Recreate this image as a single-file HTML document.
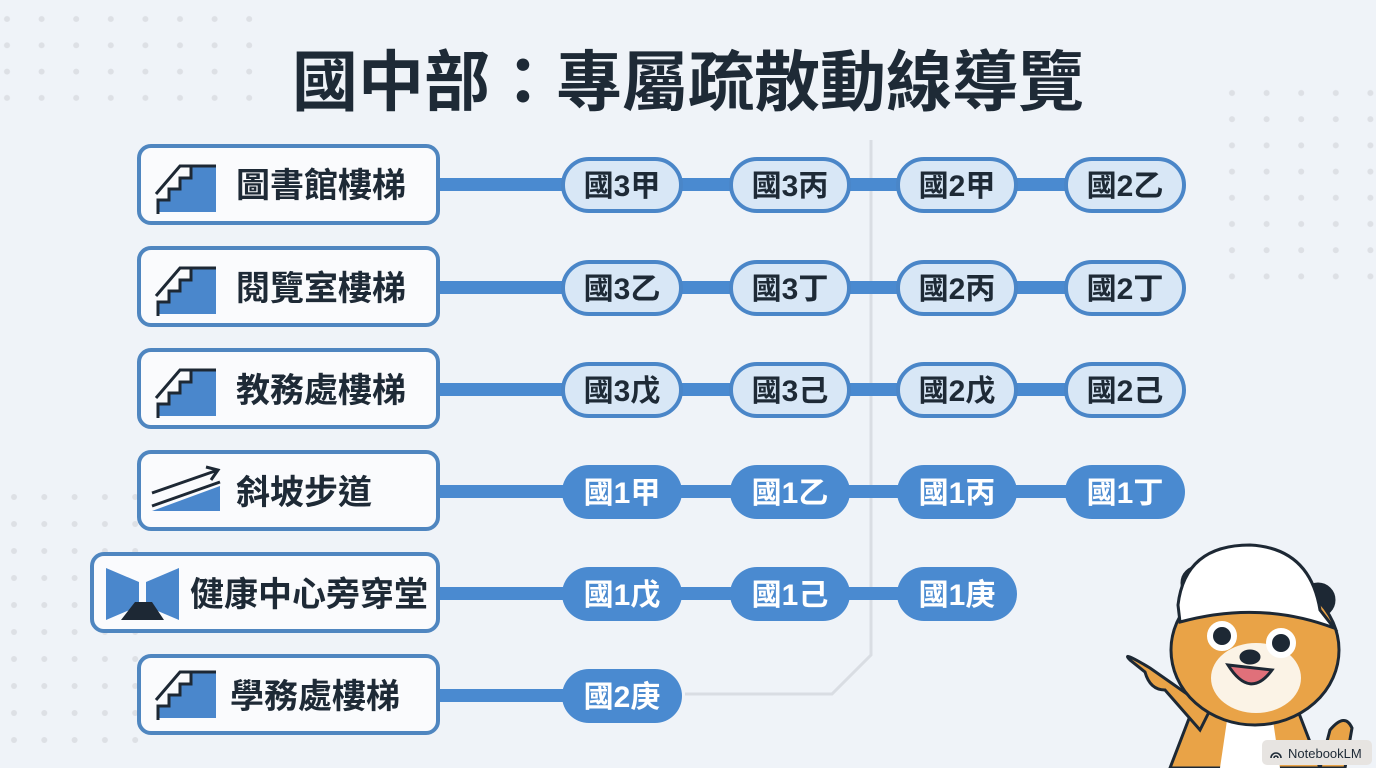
<!DOCTYPE html>
<html><head><meta charset="utf-8"><style>
html,body{margin:0;padding:0;background:#eff3f8;}
svg{display:block}
text{font-family:"Liberation Sans","Noto Sans CJK TC",sans-serif;font-weight:bold}
</style></head><body>
<svg width="1376" height="768" viewBox="0 0 1376 768" xmlns="http://www.w3.org/2000/svg">
<defs>
<pattern id="dl" x="-10" y="2" width="34.6" height="26.3" patternUnits="userSpaceOnUse"><circle cx="17" cy="17" r="3" fill="#dde0e5"/></pattern>
<pattern id="dr" x="1215" y="76" width="34.6" height="26.2" patternUnits="userSpaceOnUse"><circle cx="17" cy="17" r="3" fill="#dde0e5"/></pattern>
<pattern id="db" x="-3" y="480" width="30.3" height="27" patternUnits="userSpaceOnUse"><circle cx="17" cy="17" r="3" fill="#dde0e5"/></pattern>
<g id="stair">
<path d="M20 59 V47 H31 V36 H42 V25 H53 V14 H78 V59 Z" fill="#4a87cc"/>
<path d="M20 61 V47 H31 V36 H42 V25 H53 V14" fill="none" stroke="#1d2834" stroke-width="3"/>
<path d="M18 41 L42 13 H78" fill="none" stroke="#1d2834" stroke-width="3"/>
</g>
</defs>
<rect width="1376" height="768" fill="#eff3f8"/>
<rect x="0" y="0" width="262" height="112" fill="url(#dl)"/>
<rect x="1215" y="76" width="161" height="210" fill="url(#dr)"/>
<rect x="0" y="480" width="140" height="270" fill="url(#db)"/>

<text x="688" y="105" font-size="66" text-anchor="middle" fill="#1e2a36">國中部：專屬疏散動線導覽</text>

<path d="M871 140 V655 L832 694 H685" fill="none" stroke="#d9dde3" stroke-width="3"/>

<g fill="#4a8ad0">
<rect x="436" y="178" width="690" height="13"/>
<rect x="436" y="281" width="690" height="13"/>
<rect x="436" y="383" width="690" height="13"/>
<rect x="436" y="485" width="690" height="13"/>
<rect x="436" y="587" width="520" height="13"/>
<rect x="436" y="689" width="190" height="13"/>
</g>

<g fill="#fafbfd" stroke="#4f86c0" stroke-width="4">
<rect x="139" y="146" width="299" height="77" rx="12"/>
<rect x="139" y="248" width="299" height="77" rx="12"/>
<rect x="139" y="350" width="299" height="77" rx="12"/>
<rect x="139" y="452" width="299" height="77" rx="12"/>
<rect x="92" y="554" width="346" height="77" rx="12"/>
<rect x="139" y="656" width="299" height="77" rx="12"/>
</g>
<use href="#stair" x="138" y="153"/>
<use href="#stair" x="138" y="255"/>
<use href="#stair" x="138" y="357"/>
<use href="#stair" x="138" y="659"/>
<path d="M152 511 L220 486 V511 Z" fill="#4a87cc"/>
<path d="M152 506 L220 482" stroke="#1d2834" stroke-width="3"/>
<path d="M152 493 L218 470 M206 467 L218 470 L211 480" fill="none" stroke="#1d2834" stroke-width="3"/>
<path d="M106 568 L139 582 V606 L106 620 Z" fill="#4a87cc"/>
<path d="M179 568 L146 582 V606 L179 620 Z" fill="#4a87cc"/>
<path d="M121 620 L135 602 H152 L164 620 Z" fill="#1d2834"/>

<g font-size="34" fill="#1e2a36">
<text x="236" y="197">圖書館樓梯</text>
<text x="236" y="300">閱覽室樓梯</text>
<text x="236" y="402">教務處樓梯</text>
<text x="236" y="504">斜坡步道</text>
<text x="190" y="606">健康中心旁穿堂</text>
<text x="230" y="708">學務處樓梯</text>
</g>

<g fill="#d8e7f6" stroke="#4a86c8" stroke-width="4">
<rect x="563" y="159" width="118" height="52" rx="26"/>
<rect x="731" y="159" width="118" height="52" rx="26"/>
<rect x="898" y="159" width="118" height="52" rx="26"/>
<rect x="1066" y="159" width="118" height="52" rx="26"/>
<rect x="563" y="262" width="118" height="52" rx="26"/>
<rect x="731" y="262" width="118" height="52" rx="26"/>
<rect x="898" y="262" width="118" height="52" rx="26"/>
<rect x="1066" y="262" width="118" height="52" rx="26"/>
<rect x="563" y="364" width="118" height="52" rx="26"/>
<rect x="731" y="364" width="118" height="52" rx="26"/>
<rect x="898" y="364" width="118" height="52" rx="26"/>
<rect x="1066" y="364" width="118" height="52" rx="26"/>
</g>
<g fill="#4a8ad0">
<rect x="562" y="465" width="120" height="54" rx="27"/>
<rect x="730" y="465" width="120" height="54" rx="27"/>
<rect x="897" y="465" width="120" height="54" rx="27"/>
<rect x="1065" y="465" width="120" height="54" rx="27"/>
<rect x="562" y="567" width="120" height="54" rx="27"/>
<rect x="730" y="567" width="120" height="54" rx="27"/>
<rect x="897" y="567" width="120" height="54" rx="27"/>
<rect x="562" y="669" width="120" height="54" rx="27"/>
</g>
<g font-size="30" text-anchor="middle" fill="#1e2a36">
<text x="622" y="196">國3甲</text><text x="790" y="196">國3丙</text><text x="957" y="196">國2甲</text><text x="1125" y="196">國2乙</text>
<text x="622" y="299">國3乙</text><text x="790" y="299">國3丁</text><text x="957" y="299">國2丙</text><text x="1125" y="299">國2丁</text>
<text x="622" y="401">國3戊</text><text x="790" y="401">國3己</text><text x="957" y="401">國2戊</text><text x="1125" y="401">國2己</text>
</g>
<g font-size="30" text-anchor="middle" fill="#ffffff">
<text x="622" y="503">國1甲</text><text x="790" y="503">國1乙</text><text x="957" y="503">國1丙</text><text x="1125" y="503">國1丁</text>
<text x="622" y="605">國1戊</text><text x="790" y="605">國1己</text><text x="957" y="605">國1庚</text>
<text x="622" y="707">國2庚</text>
</g>

<g stroke="#1d2834" stroke-width="3">
<path d="M1170 768 L1200 690 L1290 690 L1320 768 Z" fill="#e9a347"/>
<path d="M1220 768 L1230 700 H1270 L1280 768 Z" fill="#fff" stroke="none"/>
<path d="M1320 768 L1330 730 Q1345 712 1352 728 L1345 768 Z" fill="#e9a347"/>
<path d="M1210 710 L1150 668 Q1120 650 1130 660 L1145 672 Q1150 690 1165 690 L1200 730 Z" fill="#e9a347"/>
<circle cx="1198" cy="583" r="16" fill="#1d2834"/>
<circle cx="1318" cy="600" r="16" fill="#1d2834"/>
<ellipse cx="1255" cy="650" rx="84" ry="75" fill="#e9a347"/>
<ellipse cx="1256" cy="678" rx="45" ry="35" fill="#fbf3e6" stroke="none"/>
<circle cx="1222" cy="636" r="12" fill="#1d2834" stroke="#fff" stroke-width="6"/>
<circle cx="1281" cy="643" r="12" fill="#1d2834" stroke="#fff" stroke-width="6"/>
<ellipse cx="1250" cy="657" rx="9" ry="6" fill="#1d2834"/>
<path d="M1228 665 Q1250 700 1272 670 Z" fill="#e0707a"/>
<path d="M1178 605 Q1185 545 1250 545 Q1310 548 1320 610 L1334 628 Q1260 600 1180 622 Z" fill="#fff"/>
</g>
<rect x="1262" y="740" width="110" height="25" rx="5" fill="#e7e4e1"/>
<text x="1288" y="758" font-size="13" fill="#1e2a36" style="font-weight:normal">NotebookLM</text>
<path d="M1271 758 a5 5 0 0 1 10 0 M1274 758 a2 2 0 0 1 4 0" fill="none" stroke="#1e2a36" stroke-width="1.6"/>
</svg>
</body></html>
